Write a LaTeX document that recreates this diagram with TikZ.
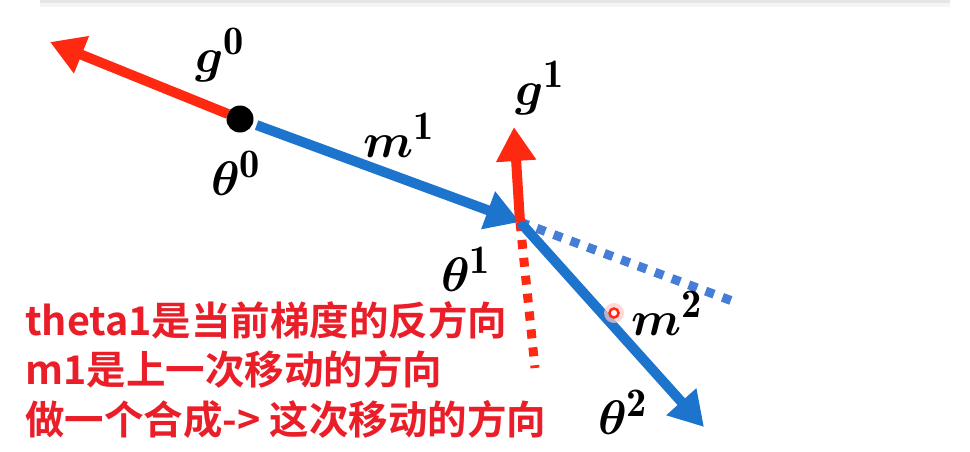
\documentclass[tikz,border=0pt]{standalone}
\usepackage{fontspec}
\usepackage{bm}
\usetikzlibrary{arrows.meta}
\newfontfamily\cjk{Noto Sans CJK SC}[BoldFont={* Bold}]
\definecolor{arrred}{RGB}{255,40,16}
\definecolor{arrblue}{RGB}{28,116,204}
\definecolor{dotblue}{RGB}{70,125,214}
\definecolor{txtred}{RGB}{234,30,40}
\newcommand{\biglbl}[1]{\scalebox{1.95}{\Huge$#1$}}
\tikzset{
  redarrow/.style={draw=arrred,line width=10pt,-{Triangle[length=34pt,width=38pt]}},
  bluearrow/.style={draw=arrblue,line width=10pt,-{Triangle[length=34pt,width=38pt]}},
  reddots/.style={draw=arrred,line width=9pt,dash pattern=on 9pt off 9pt},
  bluedots/.style={draw=dotblue,line width=9pt,dash pattern=on 9pt off 9pt},
  mathlbl/.style={inner sep=0pt},
  note/.style={anchor=base west,inner sep=0pt,text=txtred,font=\cjk\bfseries\fontsize{39.5}{46}\selectfont}
}
\begin{document}
\begin{tikzpicture}[x=1pt,y=-1pt]
\useasboundingbox (0,0) rectangle (970,451);
\fill[black!10] (40,0) rectangle (950,3);
\fill[black!4] (40,3) rectangle (950,7);
% points
\node[circle,fill=black,minimum size=27pt,inner sep=0pt] (t0) at (240,119) {};
\coordinate (g0tip) at (50,42);
\coordinate (t1) at (520,222);
\coordinate (g1tip) at (514,127);
\coordinate (rdend) at (535,368);
\coordinate (bdend) at (735,302);
\coordinate (t2) at (704,427);
% connectors
\draw[redarrow] (t0.center) ++(-12,-5) -- (g0tip);
\draw[bluearrow,shorten <=4pt] (t0) -- (t1);
\draw[reddots] (t1) -- (rdend);
\draw[bluedots] (t1) -- (bdend);
\draw[bluearrow] (t1) -- (t2);
\draw[redarrow] (t1) -- (g1tip);
% laser pointer
\node[circle,fill=red!22,minimum size=20pt,inner sep=0pt,opacity=0.7] (lp) at (614,313) {};
\node[circle,draw=arrred,line width=2.5pt,fill=white,minimum size=9pt,inner sep=0pt] (lpc) at (614,313) {};
% labels
\node[mathlbl] (lg0) at (220,55) {\biglbl{\bm{g}^{\mathbf{0}}}};
\node[mathlbl] (lt0) at (236,173) {\biglbl{\bm{\theta}^{\mathbf{0}}}};
\node[mathlbl] (lm1) at (399,135) {\biglbl{\bm{m}^{\mathbf{1}}}};
\node[mathlbl] (lg1) at (540,88) {\biglbl{\bm{g}^{\mathbf{1}}}};
\node[mathlbl] (lt1) at (466,269) {\biglbl{\bm{\theta}^{\mathbf{1}}}};
\node[mathlbl] (lm2) at (667,313) {\biglbl{\bm{m}^{\mathbf{2}}}};
\node[mathlbl] (lt2) at (623,412) {\biglbl{\bm{\theta}^{\mathbf{2}}}};
% notes
\node[note] (n1) at (25,335) {theta1是当前梯度的反方向};
\node[note] (n2) at (25,384) {m1是上一次移动的方向};
\node[note] (n3) at (25,434) {做一个合成-> 这次移动的方向};
\end{tikzpicture}
\end{document}
